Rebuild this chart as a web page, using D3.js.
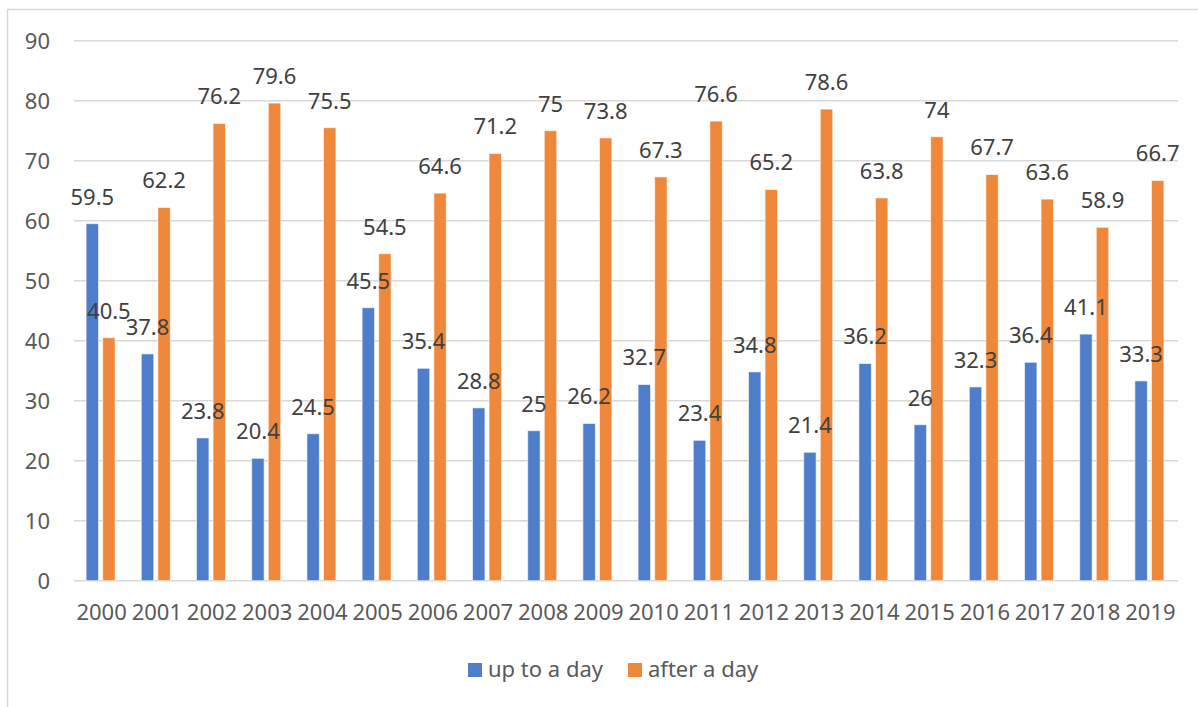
<!DOCTYPE html>
<html>
<head>
<meta charset="utf-8">
<script src="https://cdn.jsdelivr.net/npm/d3@7"></script>
<style>
  body { margin: 0; background: #fff; }
  svg { display: block; font-family: "Noto Sans", "Open Sans", sans-serif; }
</style>
</head>
<body>
<svg id="chart" width="1198" height="707"></svg>
<script>
// data
var years = ['2000', '2001', '2002', '2003', '2004', '2005', '2006', '2007', '2008', '2009',
             '2010', '2011', '2012', '2013', '2014', '2015', '2016', '2017', '2018', '2019'];
var upToADay = [59.5, 37.8, 23.8, 20.4, 24.5, 45.5, 35.4, 28.8, 25, 26.2,
                32.7, 23.4, 34.8, 21.4, 36.2, 26, 32.3, 36.4, 41.1, 33.3];
var afterADay = [40.5, 62.2, 76.2, 79.6, 75.5, 54.5, 64.6, 71.2, 75, 73.8,
                 67.3, 76.6, 65.2, 78.6, 63.8, 74, 67.7, 63.6, 58.9, 66.7];
var seriesNames = ['up to a day', 'after a day'];
var yTicks = [0, 10, 20, 30, 40, 50, 60, 70, 80, 90];

var colors = ['#4e7dcb', '#f0883b'];
var series = [upToADay, afterADay];

var svg = d3.select('#chart');

// outer frame (only top / left edges are inside the picture)
svg.append('rect')
    .attr('x', 7.5).attr('y', 9.5)
    .attr('width', 1400).attr('height', 900)
    .attr('fill', 'none')
    .attr('stroke', '#d9d9d9')
    .attr('stroke-width', 1.5);

// plot box (window.top is reserved, so no plain "top")
var plotLeft = 74, plotRight = 1178, plotTop = 40.7, plotBottom = 580.7;

var x = d3.scaleBand().domain(years).range([plotLeft, plotRight]);
var xs = d3.scaleBand().domain([0, 1]).range([-15.5, 13.5]).paddingInner(0.25);
var y = d3.scaleLinear().domain([0, 90]).range([plotBottom, plotTop]);

// gridlines
svg.append('g').selectAll('line')
    .data(yTicks)
    .enter().append('line')
    .attr('x1', plotLeft).attr('x2', plotRight)
    .attr('y1', function (d) { return y(d); })
    .attr('y2', function (d) { return y(d); })
    .attr('stroke', '#d9d9d9')
    .attr('stroke-width', 1.5);

// y tick labels
svg.append('g').selectAll('text')
    .data(yTicks)
    .enter().append('text')
    .attr('x', 50)
    .attr('y', function (d) { return y(d); })
    .attr('dy', '0.36em')
    .attr('text-anchor', 'end')
    .attr('fill', '#595959')
    .style('font-size', '22px')
    .text(function (d) { return d; });

// x tick labels
svg.append('g').selectAll('text')
    .data(years)
    .enter().append('text')
    .attr('x', function (d) { return x(d) + x.bandwidth() / 2; })
    .attr('y', 612)
    .attr('dy', '0.36em')
    .attr('text-anchor', 'middle')
    .attr('fill', '#595959')
    .style('font-size', '22px')
    .text(function (d) { return d; });

// flat list of bars, both series
var rows = [];
series.forEach(function (vals, s) {
    vals.forEach(function (v, i) { rows.push({ s: s, year: years[i], value: v }); });
});

function barX (d) {
    return x(d.year) + x.bandwidth() / 2 + xs(d.s);
}

svg.append('g').selectAll('rect')
    .data(rows)
    .enter().append('rect')
    .attr('x', barX)
    .attr('y', function (d) { return y(d.value); })
    .attr('width', xs.bandwidth())
    .attr('height', function (d) { return y(0) - y(d.value); })
    .attr('fill', function (d) { return colors[d.s]; })
    .attr('stroke', '#fff')
    .attr('stroke-opacity', 0.6)
    .attr('stroke-width', 1);

// labels go on top of every bar
svg.append('g').selectAll('text')
    .data(rows)
    .enter().append('text')
    .attr('x', function (d) { return barX(d) + xs.bandwidth() / 2; })
    .attr('y', function (d) { return y(d.value) - 27; })
    .attr('dy', '0.36em')
    .attr('text-anchor', 'middle')
    .attr('fill', '#404040')
    .style('font-size', '22px')
    .text(function (d) { return d.value; });

// legend
var legendX = [468, 628];
var legend = svg.append('g');
seriesNames.forEach(function (name, s) {
    legend.append('rect')
        .attr('x', legendX[s]).attr('y', 663)
        .attr('width', 14).attr('height', 14)
        .attr('fill', colors[s]);
    legend.append('text')
        .attr('x', legendX[s] + 20)
        .attr('y', 669)
        .attr('dy', '0.36em')
        .attr('fill', '#595959')
        .style('font-size', '22px')
        .text(name);
});
</script>
</body>
</html>
